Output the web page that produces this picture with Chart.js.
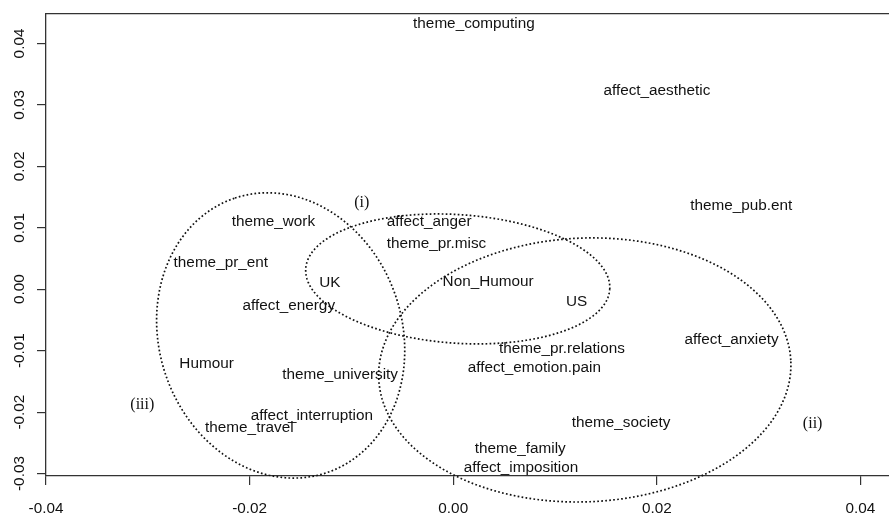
<!DOCTYPE html>
<html>
<head>
<meta charset="utf-8">
<script src="https://cdn.jsdelivr.net/npm/chart.js@4"></script>
<style>html,body{margin:0;padding:0;background:#fff;overflow:hidden}</style>
</head>
<body>
<canvas id="c" width="889" height="514"></canvas>
<script>
// term positions (dimension 1, dimension 2)
const termNames=["theme_computing","affect_aesthetic","theme_pub.ent","theme_work","affect_anger",
  "theme_pr.misc","theme_pr_ent","UK","Non_Humour","affect_energy","US","theme_pr.relations",
  "affect_anxiety","affect_emotion.pain","Humour","theme_university","affect_interruption",
  "theme_society","theme_travel","theme_family","affect_imposition"];
const termX=[0.00203,0.0200,0.02829,-0.01766,-0.00236,
  -0.00165,-0.02283,-0.01211,0.00342,-0.01615,0.01211,0.01068,
  0.02734,0.00796,-0.02423,-0.01111,-0.01389,
  0.01649,-0.02003,0.00658,0.00665];
const termY=[0.0434,0.03246,0.01378,0.01121,0.01121,
  0.00757,0.00456,0.00132,0.00143,-0.00243,-0.00182,-0.00948,
  -0.00806,-0.01262,-0.01197,-0.01368,-0.02034,
  -0.02158,-0.0223,-0.02572,-0.02881];

// group labels
const groupNames=["(i)","(ii)","(iii)"];
const groupX=[-0.00899,0.0353,-0.03054];
const groupY=[0.01438,-0.02169,-0.01852];

// ellipses: centre + two conjugate semi-axes, in data units
const ellCX=[0.000442,0.01292,-0.01695];
const ellCY=[0.001678,-0.01314,-0.00752];
const ellUX=[0.01493,0.02024,-0.00449];
const ellUY=[-0.00169,0.001376,0.02236];
const ellVX=[0.000432,0.000531,0.01133];
const ellVY=[0.01044,-0.02145,0.00625];

const xTicks=[-0.04,-0.02,0,0.02,0.04];
const xTickLabels=["-0.04","-0.02","0.00","0.02","0.04"];
const yTicks=[-0.03,-0.02,-0.01,0,0.01,0.02,0.03,0.04];
const yTickLabels=["-0.03","-0.02","-0.01","0.00","0.01","0.02","0.03","0.04"];

const SANS="Liberation Sans, Arial, sans-serif";
const SERIF="Liberation Serif, Times New Roman, serif";
const FS=15.3;

const drawStuff={
  id:"drawStuff",
  afterDatasetsDraw(chart){
    const ctx=chart.ctx, xs=chart.scales.x, ys=chart.scales.y;
    // dotted ellipses
    ctx.save();
    ctx.strokeStyle="#111";
    ctx.lineWidth=1.7;
    ctx.setLineDash([1.7,2.3]);
    for(let e=0;e<ellCX.length;e++){
      ctx.beginPath();
      for(let k=0;k<=240;k++){
        const t=k/240*Math.PI*2;
        const px=xs.getPixelForValue(ellCX[e]+ellUX[e]*Math.cos(t)+ellVX[e]*Math.sin(t));
        const py=ys.getPixelForValue(ellCY[e]+ellUY[e]*Math.cos(t)+ellVY[e]*Math.sin(t));
        if(k==0) ctx.moveTo(px,py); else ctx.lineTo(px,py);
      }
      ctx.stroke();
    }
    ctx.restore();
    // text labels at the point elements
    ctx.save();
    ctx.fillStyle="#111";
    ctx.textAlign="center";
    ctx.textBaseline="alphabetic";
    chart.data.datasets.forEach((ds,i)=>{
      const size=ds.fontSize;
      ctx.font=size+"px "+ds.fontFamily;
      chart.getDatasetMeta(i).data.forEach((pt,j)=>{
        ctx.fillText(ds.names[j],pt.x,pt.y+size*0.358);
      });
    });
    ctx.restore();
  },
  afterDraw(chart){
    const ctx=chart.ctx, xs=chart.scales.x, ys=chart.scales.y;
    ctx.save();
    ctx.fillStyle="#111";
    ctx.font=FS+"px "+SANS;
    ctx.textAlign="center";
    ctx.textBaseline="alphabetic";
    // x tick labels
    xTicks.forEach((v,i)=>{
      ctx.fillText(xTickLabels[i],xs.getPixelForValue(v),507.3+FS*0.358);
    });
    // y tick labels, rotated like R's default
    yTicks.forEach((v,i)=>{
      const py=ys.getPixelForValue(v);
      ctx.save();
      ctx.translate(18.3,py);
      ctx.rotate(-Math.PI/2);
      ctx.fillText(yTickLabels[i],0,FS*0.358);
      ctx.restore();
    });
    ctx.restore();
  }
};

const axisColor="#333";

new Chart(document.getElementById("c"),{
  type:"scatter",
  data:{
    datasets:[
      {data:termX.map((x,i)=>({x:x,y:termY[i]})),names:termNames,fontSize:FS,fontFamily:SANS,pointRadius:0},
      {data:groupX.map((x,i)=>({x:x,y:groupY[i]})),names:groupNames,fontSize:16,fontFamily:SERIF,pointRadius:0}
    ]
  },
  options:{
    responsive:false,
    animation:false,
    devicePixelRatio:1,
    layout:{padding:0},
    plugins:{legend:{display:false},tooltip:{enabled:false}},
    scales:{
      x:{
        type:"linear",position:"bottom",min:-0.04,max:0.0428,
        afterBuildTicks:s=>{s.ticks=xTicks.map(v=>({value:v}));},
        afterFit:s=>{s.height=38;},
        ticks:{display:false,stepSize:0.02,includeBounds:false},
        grid:{drawOnChartArea:false,drawTicks:true,tickLength:9,color:axisColor,lineWidth:1.2},
        border:{display:true,color:axisColor,width:1.3}
      },
      x2:{
        type:"linear",position:"top",min:-0.04,max:0.0428,
        afterFit:s=>{s.height=14;},
        ticks:{display:false},
        grid:{display:false},
        border:{display:true,color:axisColor,width:1.3}
      },
      y:{
        type:"linear",position:"left",min:-0.0304,max:0.0448,
        afterBuildTicks:s=>{s.ticks=yTicks.map(v=>({value:v}));},
        afterFit:s=>{s.width=46;},
        ticks:{display:false,stepSize:0.01,includeBounds:false},
        grid:{drawOnChartArea:false,drawTicks:true,tickLength:9,color:axisColor,lineWidth:1.2},
        border:{display:true,color:axisColor,width:1.3}
      }
    }
  },
  plugins:[drawStuff]
});
</script>
</body>
</html>
